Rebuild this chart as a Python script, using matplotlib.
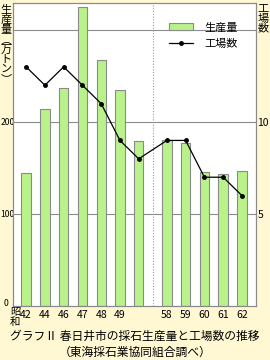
import matplotlib
matplotlib.use('Agg')
import matplotlib.pyplot as plt
import numpy as np

plt.rcParams['font.family'] = ['Noto Sans CJK JP', 'DejaVu Sans']

# データ（昭和年）
years = ['42', '44', '46', '47', '48', '49', '', '58', '59', '60', '61', '62']
production = [145, 214, 237, 325, 268, 235, 180, 181, 177, 146, 144, 147]  # 万トン
factories = [13, 12, 13, 12, 11, 9, 8, 9, 9, 7, 7, 6]  # 工場数
left_ticks = [100, 200]
right_ticks = [5, 10]

bg = '#fff8d2'
bar_color = '#b9f28a'

# 49年以降と58年の間に区切りを入れる
x = np.arange(len(years), dtype=float)
x[7:] += 0.5
split_x = 6.75

fig = plt.figure(figsize=(2.7, 3.6), dpi=100, facecolor=bg)
ax = fig.add_axes([13 / 270, 1 - 306 / 360, 243 / 270, 303 / 360])
ax.set_facecolor('white')

ax.bar(x, production, width=0.5, color=bar_color, edgecolor='#8a8a8a', linewidth=0.8,
       label='生産量', zorder=2)
ax.set_ylim(0, 329.7)
ax.set_xlim(-0.7, 12.25)
for g in [100, 200, 300]:
    ax.axhline(g, color='#8c8c8c', linewidth=0.8, zorder=1)
ax.axvline(split_x, color='#999999', linewidth=0.8, linestyle=(0, (1, 1.5)), zorder=1)

ax2 = ax.twinx()
ax2.plot(x, factories, color='black', linewidth=0.9, marker='o', markersize=2.5,
         label='工場数', zorder=3)
ax2.set_ylim(0, 16.47)

# 左軸の目盛ラベルは余白が狭いので左端から置く
ax.set_yticks(left_ticks)
ax.set_yticklabels([])
for v in left_ticks:
    ax.annotate(str(v), xy=(0, v), xycoords=('figure fraction', 'data'),
                xytext=(0.5, 0), textcoords='offset points',
                ha='left', va='center', fontsize=6.2, annotation_clip=False)
ax2.set_yticks(right_ticks)
ax2.set_yticklabels([str(v) for v in right_ticks], fontsize=7.5)
ax.set_xticks(x)
ax.set_xticklabels(years, fontsize=7.5)
ax.tick_params(axis='both', length=0, pad=0.3)
ax2.tick_params(axis='y', length=0, pad=1)
ax.tick_params(axis='x', pad=3)

for a in (ax, ax2):
    for s in a.spines.values():
        s.set_color('#8a8a8a')
        s.set_linewidth(0.8)

# 凡例
h1, l1 = ax.get_legend_handles_labels()
h2, l2 = ax2.get_legend_handles_labels()
ax2.legend(h1 + h2, l1 + l2, loc='upper left', bbox_to_anchor=(0.6, 0.97), frameon=False,
           fontsize=8, handlelength=2.2, handleheight=0.6, labelspacing=0.6, handletextpad=1.0)

# 軸タイトル（縦書き）
fig.text(6 / 270, 1 - 5 / 360, '生\n産\n量\n︵\n万\nト\nン\n︶', ha='center', va='top',
         fontsize=8, linespacing=0.98)
fig.text(263 / 270, 1 - 4 / 360, '工\n場\n数', ha='center', va='top', fontsize=8,
         linespacing=0.95)
fig.text(6 / 270, 1 - 303 / 360, '0', ha='center', va='center', fontsize=6.3)
fig.text(15 / 270, 1 - 307 / 360, '昭\n和', ha='center', va='top', fontsize=7.5,
         linespacing=0.95)

fig.text(0.5, 1 - 336 / 360, 'グラフⅡ 春日井市の採石生産量と工場数の推移', ha='center',
         va='center', fontsize=8.5)
fig.text(0.5, 1 - 352 / 360, '（東海採石業協同組合調べ）', ha='center', va='center',
         fontsize=8.5)

fig.savefig('out.png', dpi=100, facecolor=bg)
